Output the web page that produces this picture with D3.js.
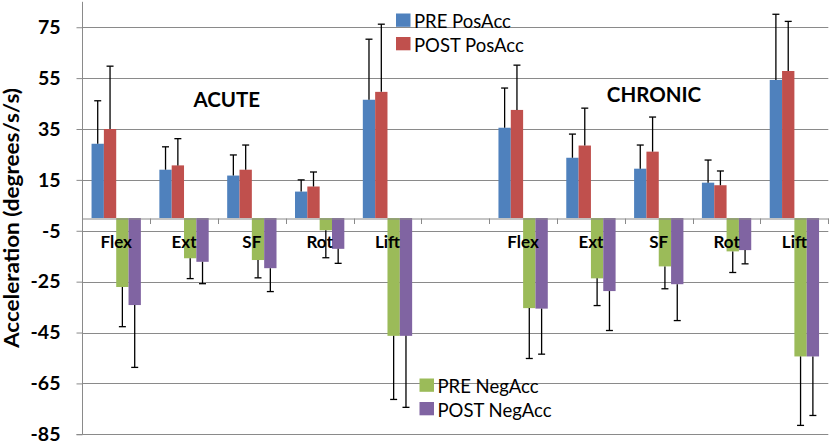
<!DOCTYPE html>
<html>
<head>
<meta charset="utf-8">
<script src="https://cdn.jsdelivr.net/npm/d3@7"></script>
<style>
  html, body { margin: 0; padding: 0; background: #fff; }
  svg { display: block; }
  text { font-family: Lato, "Open Sans", "DejaVu Sans", sans-serif; }
</style>
</head>
<body>
<svg id="chart" width="832" height="445"></svg>
<script>
// ---- Data ----
const categories = ["Flex", "Ext", "SF", "Rot", "Lift", "", "Flex", "Ext", "SF", "Rot", "Lift"];
const seriesNames = ["PRE PosAcc", "POST PosAcc", "PRE NegAcc", "POST NegAcc"];
const prePos     = [29.2, 19.0, 16.7, 10.4, 46.5, null, 35.5, 23.7, 19.4, 13.9, 54.3];
const prePosErr  = [16.9,  9.0,  8.1,  4.6, 23.8, null, 15.6,  9.3,  9.3,  8.9, 25.8];
const postPos    = [35.0, 20.7, 19.0, 12.4, 49.6, null, 42.5, 28.5, 26.1, 12.9, 57.8];
const postPosErr = [24.7, 10.5,  9.7,  5.7, 26.6, null, 17.6, 14.7, 13.6,  5.6, 19.5];
const preNeg     = [-27.1, -15.8, -16.5, -4.8, -46.3, null, -35.4, -23.7, -19.0, -13.1, -54.4];
const preNegErr  = [15.6,   8.0,   7.0, 10.8, 25.0, null, 19.8, 10.7,  8.8,  8.3, 27.1];
const postNeg    = [-34.2, -17.2, -19.7, -12.1, -46.3, null, -35.6, -28.7, -26.0, -12.6, -54.4];
const postNegErr = [24.5,   8.6,   9.2,  5.7, 28.1, null, 17.9, 15.5, 14.3,  5.4, 23.2];
const yTicks = [75, 55, 35, 15, -5, -25, -45, -65, -85];
const colors = ["#4F81BD", "#C0504D", "#9BBB59", "#8064A2"];
const groupLabels = [{text: "ACUTE", idx: 1.63, v: 43.8}, {text: "CHRONIC", idx: 7.93, v: 45.8}];

const values = [prePos, postPos, preNeg, postNeg];
const errs = [prePosErr, postPosErr, preNegErr, postNegErr];

// ---- Layout ----
const svg = d3.select("#chart");
const pLeft = 82.3, pRight = 828.3, pTop = 1.8, pBottom = 434.3;

const y = d3.scaleLinear().domain([-85, 85]).range([pBottom, pTop]);
const x = d3.scaleBand().domain(d3.range(categories.length)).range([pLeft, pRight]).padding(0);
const u = x.bandwidth() / 5.5;
const xs = d3.scaleBand().domain(d3.range(4)).range([0.75 * u, 4.75 * u]).padding(0);

const gridColor = "#8a8a8a";

// gridlines
svg.append("g").selectAll("line").data(yTicks).join("line")
  .attr("x1", pLeft).attr("x2", pRight)
  .attr("y1", d => Math.round(y(d)) + 0.5).attr("y2", d => Math.round(y(d)) + 0.5)
  .attr("stroke", gridColor).attr("stroke-width", 1);

// y axis
const yAxis = d3.axisLeft(y).tickValues(yTicks).tickSize(6).tickPadding(16).tickFormat(d => String(d));
const gy = svg.append("g").attr("transform", `translate(${Math.round(pLeft) + 0.5},0)`).call(yAxis);
gy.select(".domain").attr("stroke", gridColor).attr("d", `M-6,${Math.round(pBottom)+0.5}H0V${pTop}`);
gy.selectAll(".tick line").attr("stroke", gridColor);
gy.selectAll(".tick text").attr("font-size", 19.5).attr("font-weight", "bold").attr("fill", "#000")
  .attr("font-family", "Lato, sans-serif");

// bars
values.forEach((vals, s) => {
  svg.append("g").selectAll("rect")
    .data(vals.map((v, i) => ({v, i})).filter(d => d.v !== null))
    .join("rect")
    .attr("x", d => x(d.i) + xs(s))
    .attr("width", xs.bandwidth())
    .attr("y", d => Math.min(y(d.v), y(0)))
    .attr("height", d => Math.abs(y(d.v) - y(0)))
    .attr("fill", colors[s]);
});

// category axis at zero
const xAxis = d3.axisBottom(x).tickSize(0).tickFormat("");
const gx = svg.append("g").attr("transform", `translate(0,${Math.round(y(0)) + 0.5})`).call(xAxis);
gx.select(".domain").attr("stroke", gridColor);
// tick marks at category boundaries
const bounds = d3.range(categories.length + 1).map(i => i < categories.length ? x(i) : pRight);
svg.append("g").selectAll("line").data(bounds).join("line")
  .attr("x1", d => Math.round(d) + 0.5).attr("x2", d => Math.round(d) + 0.5)
  .attr("y1", Math.round(y(0)) + 0.5).attr("y2", Math.round(y(0)) + 6)
  .attr("stroke", gridColor);

// error bars
const cap = 3.5;
values.forEach((vals, s) => {
  const data = vals.map((v, i) => ({v, e: errs[s][i], i})).filter(d => d.v !== null);
  const g = svg.append("g").attr("stroke", "#000").attr("stroke-width", 1.3);
  data.forEach(d => {
    const cx = x(d.i) + xs(s) + xs.bandwidth() / 2;
    const end = d.v >= 0 ? d.v + d.e : d.v - d.e;
    g.append("line").attr("x1", cx).attr("x2", cx).attr("y1", y(d.v)).attr("y2", y(end));
    g.append("line").attr("x1", cx - cap).attr("x2", cx + cap).attr("y1", y(end)).attr("y2", y(end));
  });
});

// category labels
svg.append("g").selectAll("text").data(categories.map((c, i) => ({c, i}))).join("text")
  .attr("x", d => x(d.i) + x.bandwidth() / 2)
  .attr("y", 248)
  .attr("text-anchor", "middle")
  .attr("font-size", 17).attr("font-weight", "bold").attr("fill", "#000")
  .text(d => d.c);

// group labels
svg.append("g").selectAll("text").data(groupLabels).join("text")
  .attr("x", d => x(0) + x.bandwidth() * (d.idx + 0.5))
  .attr("y", d => y(d.v))
  .attr("text-anchor", "middle")
  .attr("font-size", 20.5).attr("font-weight", "bold").attr("fill", "#000")
  .text(d => d.text);

// y axis title
svg.append("text")
  .attr("transform", `translate(19,218) rotate(-90)`)
  .attr("text-anchor", "middle")
  .attr("font-size", 20).attr("font-weight", "bold").attr("fill", "#000")
  .attr("textLength", 260).attr("lengthAdjust", "spacingAndGlyphs")
  .text("Acceleration (degrees/s/s)");

// legends
function legend(items, x0, y0) {
  const g = svg.append("g").attr("transform", `translate(${x0},${y0})`);
  items.forEach((s, k) => {
    g.append("rect").attr("x", 0).attr("y", k * 23.5).attr("width", 14.5).attr("height", 13.3).attr("fill", colors[s]);
    g.append("text").attr("x", 18).attr("y", k * 23.5 + 14.5)
      .attr("font-size", 18.5).attr("fill", "#000").text(seriesNames[s]);
  });
}
legend([0, 1], 396, 13.5);
legend([2, 3], 419.5, 378.5);
</script>
</body>
</html>
